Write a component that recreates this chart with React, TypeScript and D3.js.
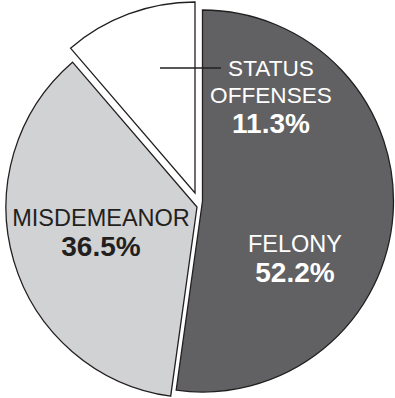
import * as d3 from "d3";

const categories = ["FELONY", "MISDEMEANOR", "STATUS OFFENSES"];
const values = [52.2, 36.5, 11.3];

// layout bits (not data)
const W = 395;
const H = 398;
const R = 191;
const fills = ["#616163", "#d1d2d4", "#ffffff"];
const textFill = ["#ffffff", "#231f20", "#ffffff"];
const labelSize = [23.5, 23.5, 22.6];
// per-slice apex of the exploded pie
const centers: [number, number][] = [
  [202.5, 201],
  [197, 207],
  [195, 193],
];
// label anchor (centre x, first baseline y)
const labelAt: [number, number][] = [
  [295, 252],
  [101, 226],
  [271, 76],
];

const App = () => {
  const pie = d3
    .pie<number>()
    .sort(null)
    .startAngle(0)
    .endAngle(2 * Math.PI)
    .value((d) => d);
  const arcs = pie(values);
  const arc = d3.arc<d3.PieArcDatum<number>>().innerRadius(0).outerRadius(R);

  return (
    <svg
      width={W}
      height={H}
      style={{ position: "absolute", left: 0, top: 0, background: "#fff" }}
      fontFamily="'Liberation Sans', Arial, sans-serif"
    >
      {arcs.map((a, i) => (
        <path
          key={"s" + i}
          d={arc(a) || ""}
          transform={`translate(${centers[i][0]},${centers[i][1]})`}
          fill={fills[i]}
          stroke="#231f20"
          strokeWidth={1.3}
          strokeLinejoin="miter"
        />
      ))}
      {/* leader for the small slice */}
      <line x1={160} x2={221} y1={68} y2={68} stroke="#231f20" strokeWidth={1.3} />
      {categories.map((c, i) => {
        const words = c === "STATUS OFFENSES" ? ["STATUS", "OFFENSES"] : [c];
        const [x, y] = labelAt[i];
        return (
          <g key={"l" + i} fill={textFill[i]} textAnchor="middle">
            {words.map((w, j) => (
              <text key={j} x={x} y={y + j * 27} fontSize={labelSize[i]}>
                {w}
              </text>
            ))}
            <text
              x={x}
              y={y + (words.length - 1) * 27 + 30}
              fontSize={28}
              fontWeight="bold"
            >
              {d3.format(".1f")(values[i])}%
            </text>
          </g>
        );
      })}
    </svg>
  );
};

export default App;
